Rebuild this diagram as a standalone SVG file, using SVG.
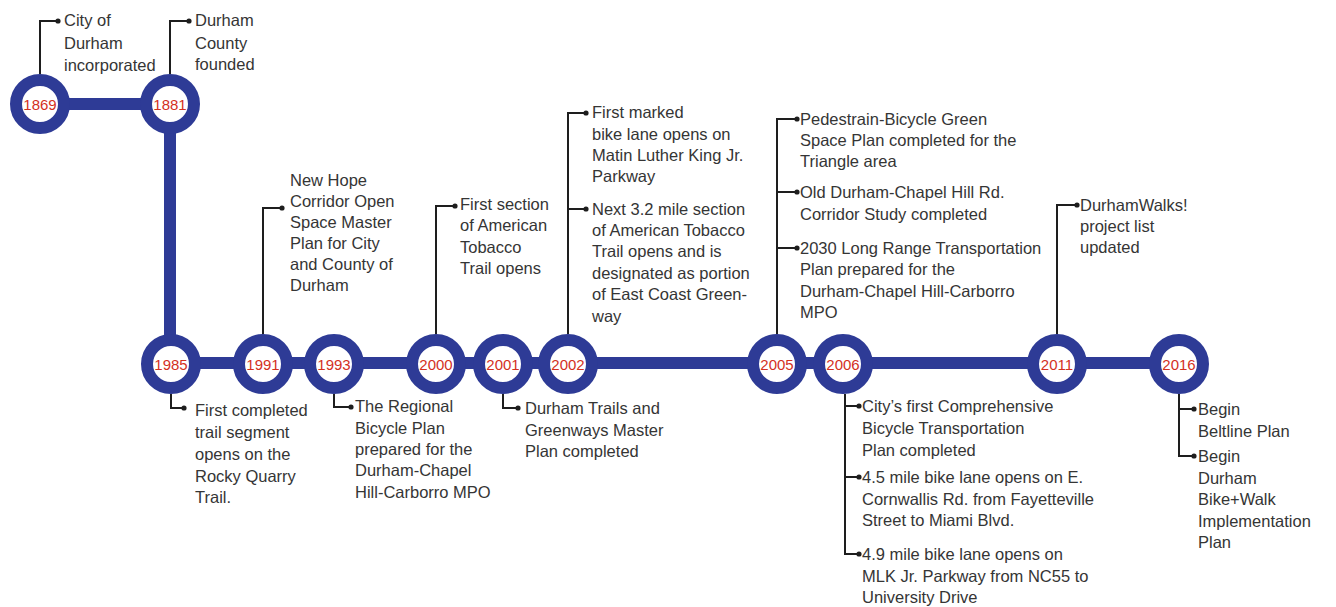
<svg xmlns="http://www.w3.org/2000/svg" width="1336" height="607" viewBox="0 0 1336 607">
<style>
.bar{stroke:#2e3b96;stroke-width:12;fill:none}
.ring{fill:#fff;stroke:#2e3b96;stroke-width:12}
.yr{font-family:"Liberation Sans",Arial,sans-serif;font-size:15px;fill:#d3301e;text-anchor:middle}
.lead{stroke:#1e1e1e;stroke-width:2;fill:none}
.dot{fill:#1e1e1e}
.t{font-family:"Liberation Sans",Arial,sans-serif;font-size:16.5px;fill:#353535}
</style>
<rect width="1336" height="607" fill="#fff"/>
<g id="connectors">
<path class="bar" d="M40,104 H170 V363 H1179"/>
<path class="lead" d="M40,74 V21 H58"/><circle class="dot" cx="58" cy="21" r="2.6"/>
<path class="lead" d="M170,74 V21 H189"/><circle class="dot" cx="189" cy="21" r="2.6"/>
<path class="lead" d="M171,394 V408 H184"/><circle class="dot" cx="184" cy="408" r="2.6"/>
<path class="lead" d="M263,334 V208 H282"/><circle class="dot" cx="282" cy="208" r="2.6"/>
<path class="lead" d="M334,394 V407 H351"/><circle class="dot" cx="351" cy="407" r="2.6"/>
<path class="lead" d="M436,334 V206 H455"/><circle class="dot" cx="455" cy="206" r="2.6"/>
<path class="lead" d="M503,394 V408 H518"/><circle class="dot" cx="518" cy="408" r="2.6"/>
<path class="lead" d="M568,334 V113 H586 M568,209 H586"/><circle class="dot" cx="586" cy="113" r="2.6"/><circle class="dot" cx="586" cy="209" r="2.6"/>
<path class="lead" d="M777,334 V119 H797 M777,192 H797 M777,248 H797"/><circle class="dot" cx="797" cy="119" r="2.6"/><circle class="dot" cx="797" cy="192" r="2.6"/><circle class="dot" cx="797" cy="248" r="2.6"/>
<path class="lead" d="M845,394 V554 H859 M845,406 H859 M845,477 H859"/><circle class="dot" cx="859" cy="406" r="2.6"/><circle class="dot" cx="859" cy="477" r="2.6"/><circle class="dot" cx="859" cy="554" r="2.6"/>
<path class="lead" d="M1057,334 V205 H1077"/><circle class="dot" cx="1077" cy="205" r="2.6"/>
<path class="lead" d="M1179,394 V456 H1194 M1179,409 H1194"/><circle class="dot" cx="1194" cy="409" r="2.6"/><circle class="dot" cx="1194" cy="456" r="2.6"/>
</g>
<g id="n1869"><circle class="ring" cx="40" cy="104" r="24"/><text class="yr" x="40" y="109.5">1869</text>
<text class="t"><tspan x="64" y="26">City of</tspan><tspan x="64" y="49">Durham</tspan><tspan x="64" y="71">incorporated</tspan></text></g>
<g id="n1881"><circle class="ring" cx="170" cy="104" r="24"/><text class="yr" x="170" y="109.5">1881</text>
<text class="t"><tspan x="195" y="26">Durham</tspan><tspan x="195" y="49">County</tspan><tspan x="195" y="70">founded</tspan></text></g>
<g id="n1985"><circle class="ring" cx="171" cy="364" r="24"/><text class="yr" x="171" y="369.5">1985</text>
<text class="t"><tspan x="195" y="416">First completed</tspan><tspan x="195" y="438">trail segment</tspan><tspan x="195" y="460">opens on the</tspan><tspan x="195" y="482">Rocky Quarry</tspan><tspan x="195" y="503">Trail.</tspan></text></g>
<g id="n1991"><circle class="ring" cx="263" cy="364" r="24"/><text class="yr" x="263" y="369.5">1991</text>
<text class="t"><tspan x="290" y="186">New Hope</tspan><tspan x="290" y="207">Corridor Open</tspan><tspan x="290" y="228">Space Master</tspan><tspan x="290" y="249">Plan for City</tspan><tspan x="290" y="270">and County of</tspan><tspan x="290" y="291">Durham</tspan></text></g>
<g id="n1993"><circle class="ring" cx="334" cy="364" r="24"/><text class="yr" x="334" y="369.5">1993</text>
<text class="t"><tspan x="355" y="412">The Regional</tspan><tspan x="355" y="434">Bicycle Plan</tspan><tspan x="355" y="455">prepared for the</tspan><tspan x="355" y="476">Durham-Chapel</tspan><tspan x="355" y="498">Hill-Carborro MPO</tspan></text></g>
<g id="n2000"><circle class="ring" cx="436" cy="364" r="24"/><text class="yr" x="436" y="369.5">2000</text>
<text class="t"><tspan x="460" y="210">First section</tspan><tspan x="460" y="231">of American</tspan><tspan x="460" y="253">Tobacco</tspan><tspan x="460" y="274">Trail opens</tspan></text></g>
<g id="n2001"><circle class="ring" cx="503" cy="364" r="24"/><text class="yr" x="503" y="369.5">2001</text>
<text class="t"><tspan x="525" y="414">Durham Trails and</tspan><tspan x="525" y="436">Greenways Master</tspan><tspan x="525" y="457">Plan completed</tspan></text></g>
<g id="n2002"><circle class="ring" cx="568" cy="364" r="24"/><text class="yr" x="568" y="369.5">2002</text>
<text class="t"><tspan x="592" y="118">First marked</tspan><tspan x="592" y="140">bike lane opens on</tspan><tspan x="592" y="161">Matin Luther King Jr.</tspan><tspan x="592" y="182">Parkway</tspan><tspan x="592" y="215">Next 3.2 mile section</tspan><tspan x="592" y="236">of American Tobacco</tspan><tspan x="592" y="257">Trail opens and is</tspan><tspan x="592" y="279">designated as portion</tspan><tspan x="592" y="300">of East Coast Green-</tspan><tspan x="592" y="322">way</tspan></text></g>
<g id="n2005"><circle class="ring" cx="777" cy="364" r="24"/><text class="yr" x="777" y="369.5">2005</text>
<text class="t"><tspan x="800" y="125">Pedestrain-Bicycle Green</tspan><tspan x="800" y="146">Space Plan completed for the</tspan><tspan x="800" y="167">Triangle area</tspan><tspan x="800" y="198">Old Durham-Chapel Hill Rd.</tspan><tspan x="800" y="220">Corridor Study completed</tspan><tspan x="800" y="254">2030 Long Range Transportation</tspan><tspan x="800" y="275">Plan prepared for the</tspan><tspan x="800" y="297">Durham-Chapel Hill-Carborro</tspan><tspan x="800" y="318">MPO</tspan></text></g>
<g id="n2006"><circle class="ring" cx="843" cy="364" r="24"/><text class="yr" x="843" y="369.5">2006</text>
<text class="t"><tspan x="862" y="412">City’s first Comprehensive</tspan><tspan x="862" y="434">Bicycle Transportation</tspan><tspan x="862" y="456">Plan completed</tspan><tspan x="862" y="483">4.5 mile bike lane opens on E.</tspan><tspan x="862" y="505">Cornwallis Rd. from Fayetteville</tspan><tspan x="862" y="526">Street to Miami Blvd.</tspan><tspan x="862" y="560">4.9 mile bike lane opens on</tspan><tspan x="862" y="582">MLK Jr. Parkway from NC55 to</tspan><tspan x="862" y="603">University Drive</tspan></text></g>
<g id="n2011"><circle class="ring" cx="1057" cy="364" r="24"/><text class="yr" x="1057" y="369.5">2011</text>
<text class="t"><tspan x="1080" y="211">DurhamWalks!</tspan><tspan x="1080" y="232">project list</tspan><tspan x="1080" y="253">updated</tspan></text></g>
<g id="n2016"><circle class="ring" cx="1179" cy="364" r="24"/><text class="yr" x="1179" y="369.5">2016</text>
<text class="t"><tspan x="1198" y="415">Begin</tspan><tspan x="1198" y="437">Beltline Plan</tspan><tspan x="1198" y="462">Begin</tspan><tspan x="1198" y="484">Durham</tspan><tspan x="1198" y="505">Bike+Walk</tspan><tspan x="1198" y="527">Implementation</tspan><tspan x="1198" y="548">Plan</tspan></text></g>
</svg>
